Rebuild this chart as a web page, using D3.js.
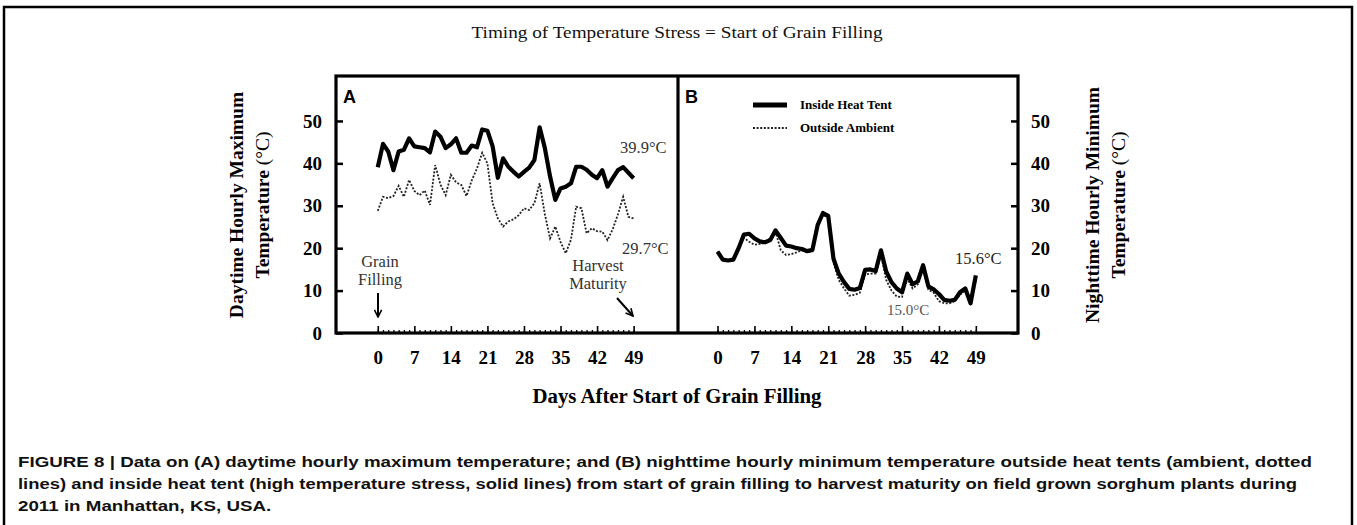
<!DOCTYPE html>
<html>
<head>
<meta charset="utf-8">
<script src="https://cdn.jsdelivr.net/npm/d3@7"></script>
<style>
  body { margin: 0; background: #fff; }
  text { font-family: "Liberation Serif", "Times New Roman", serif; }
</style>
</head>
<body>
<div id="chart"></div>
<script>
// days after start of grain filling
var days = [0,1,2,3,4,5,6,7,8,9,10,11,12,13,14,15,16,17,18,19,20,21,22,23,24,
            25,26,27,28,29,30,31,32,33,34,35,36,37,38,39,40,41,42,43,44,45,46,47,48,49];
var dayTicks = [0,7,14,21,28,35,42,49];
var tempTicks = [0,10,20,30,40,50];

// panel A: daytime hourly maximum (C)
var dayInside = [39.1,44.6,42.8,38.4,42.8,43.2,45.9,44.0,43.8,43.6,42.6,47.5,46.3,43.6,44.5,45.9,42.5,42.5,44.2,43.8,
                 48.0,47.7,44.0,36.6,41.2,39.2,38.0,36.9,38.0,39.0,40.8,48.5,43.6,36.9,31.4,34.1,34.5,35.3,39.2,39.2,
                 38.5,37.3,36.5,38.4,34.5,36.5,38.4,39.1,37.8,36.5];
var dayOutside = [28.8,32.1,31.8,32.3,34.7,32.1,36.1,33.5,32.5,33.6,30.2,39.6,35.0,32.5,37.3,35.5,34.9,32.3,36.0,38.8,
                  42.5,40.0,30.6,27.0,25.1,26.3,26.8,27.8,29.4,29.0,30.6,35.3,28.0,22.3,25.1,21.5,18.8,22.0,29.8,29.4,
                  23.5,24.7,24.0,23.9,21.9,24.5,28.0,32.1,27.4,27.0];

// panel B: nighttime hourly minimum (C)
var nightInside = [19.2,17.3,17.1,17.3,20.0,23.2,23.4,22.3,21.6,21.4,21.9,24.2,22.4,20.6,20.4,20.0,19.8,19.3,19.6,25.5,
                   28.3,27.6,17.5,14.0,12.0,10.4,10.2,10.6,14.9,15.0,14.6,19.5,14.5,12.0,10.5,9.6,14.0,11.5,12.2,16.0,
                   11.0,10.3,9.2,7.8,7.6,7.8,9.6,10.5,7.0,13.6];
var nightOutside = [19.2,17.3,17.1,17.5,20.2,22.5,21.5,20.8,21.0,21.2,22.5,23.9,19.5,18.4,18.6,19.0,19.5,19.0,19.3,25.0,
                    27.8,27.2,16.5,12.5,10.5,8.8,9.0,9.5,13.8,14.0,14.0,18.5,12.5,10.0,8.6,8.5,12.8,10.5,11.5,15.0,
                    10.2,9.5,7.5,7.0,7.0,7.5,9.0,10.0,6.8,12.5];

var W = 1357, H = 525;
var plotTop = 76, plotBottom = 333;
var aLeft = 336, mid = 678, bRight = 1018;

var svg = d3.select("#chart").append("svg")
    .attr("width", W)
    .attr("height", H);

// outer frame (open at the bottom)
svg.append("path")
    .attr("d", "M4,525V7H1352V525")
    .attr("fill", "none")
    .attr("stroke", "#000")
    .attr("stroke-width", 2.5);

svg.append("text")
    .attr("x", 677).attr("y", 38)
    .attr("text-anchor", "middle")
    .attr("textLength", 411)
    .attr("lengthAdjust", "spacingAndGlyphs")
    .style("font-size", "16.5px")
    .style("fill", "#111")
    .text("Timing of Temperature Stress = Start of Grain Filling");

var y = d3.scaleLinear().domain([0, 60.6]).range([plotBottom, plotTop]);
var xA = d3.scaleLinear().domain([-8, 57.5]).range([aLeft, mid]);
var xB = d3.scaleLinear().domain([-7.5, 57]).range([mid, bRight]);

function drawPanel(x, inside, outside) {
    var g = svg.append("g");
    // minor day ticks
    g.append("g")
        .attr("transform", "translate(0," + plotBottom + ")")
        .call(d3.axisBottom(x).tickValues(days).tickSize(-3).tickFormat(""))
        .call(function(s) { s.select(".domain").remove(); s.selectAll("line").attr("stroke-width", 1.3); });
    // major ticks + labels
    g.append("g")
        .attr("transform", "translate(0," + plotBottom + ")")
        .call(d3.axisBottom(x).tickValues(dayTicks).tickSize(-7).tickPadding(18))
        .call(function(s) {
            s.select(".domain").remove();
            s.selectAll("line").attr("stroke-width", 1.6);
            s.selectAll("text")
                .style("font-family", "'Liberation Serif', serif")
                .style("font-size", "19px")
                .style("font-weight", "bold")
                .attr("fill", "#000");
        });

    g.append("path")
        .datum(days)
        .attr("fill", "none")
        .attr("stroke", "#222")
        .attr("stroke-width", 1.8)
        .attr("stroke-dasharray", "2,1.6")
        .attr("d", d3.line()
            .x(function(d) { return x(d); })
            .y(function(d, i) { return y(outside[i]); }));

    g.append("path")
        .datum(days)
        .attr("fill", "none")
        .attr("stroke", "#000")
        .attr("stroke-width", 4.2)
        .attr("stroke-linejoin", "round")
        .attr("d", d3.line()
            .x(function(d) { return x(d); })
            .y(function(d, i) { return y(inside[i]); }));
}

drawPanel(xA, dayInside, dayOutside);
drawPanel(xB, nightInside, nightOutside);

// y axes
function styleY(s) {
    s.select(".domain").remove();
    s.selectAll("line").attr("stroke-width", 2.5);
    s.selectAll("text")
        .style("font-family", "'Liberation Serif', serif")
        .style("font-size", "19px")
        .style("font-weight", "bold")
        .attr("fill", "#000");
}
svg.append("g")
    .attr("transform", "translate(" + aLeft + ",0)")
    .call(d3.axisLeft(y).tickValues(tempTicks).tickSize(-7).tickPadding(14))
    .call(styleY);
svg.append("g")
    .attr("transform", "translate(" + bRight + ",0)")
    .call(d3.axisRight(y).tickValues(tempTicks).tickSize(-7).tickPadding(13))
    .call(styleY);

// panel frames
svg.append("rect")
    .attr("x", aLeft).attr("y", plotTop)
    .attr("width", bRight - aLeft).attr("height", plotBottom - plotTop)
    .attr("fill", "none").attr("stroke", "#000").attr("stroke-width", 3.2);
svg.append("line")
    .attr("x1", mid).attr("x2", mid).attr("y1", plotTop).attr("y2", plotBottom)
    .attr("stroke", "#000").attr("stroke-width", 3.2);

// panel letters
svg.append("text").attr("x", 343).attr("y", 103)
    .style("font-family", "'Liberation Sans', Arial, sans-serif")
    .style("font-size", "18px").style("font-weight", "bold").text("A");
svg.append("text").attr("x", 685).attr("y", 103)
    .style("font-family", "'Liberation Sans', Arial, sans-serif")
    .style("font-size", "18px").style("font-weight", "bold").text("B");

// legend
svg.append("line").attr("x1", 753).attr("x2", 787).attr("y1", 105).attr("y2", 105)
    .attr("stroke", "#000").attr("stroke-width", 5);
svg.append("line").attr("x1", 753).attr("x2", 787).attr("y1", 128).attr("y2", 128)
    .attr("stroke", "#222").attr("stroke-width", 1.8).attr("stroke-dasharray", "2,1.6");
svg.append("text").attr("x", 800).attr("y", 109)
    .style("font-size", "13px").style("font-weight", "bold").text("Inside Heat Tent");
svg.append("text").attr("x", 800).attr("y", 132)
    .style("font-size", "13px").style("font-weight", "bold").text("Outside Ambient");

// annotations
function note(xp, yp, t, size, anchor, col) {
    svg.append("text").attr("x", xp).attr("y", yp)
        .attr("text-anchor", anchor || "start")
        .style("font-size", (size || 14) + "px")
        .style("fill", col || "#333")
        .text(t);
}
note(620, 153, "39.9°C", 16.5);
note(622, 254, "29.7°C", 16.5);
note(955, 264, "15.6°C", 16.5, "start", "#222");
note(887, 315, "15.0°C", 15, "start", "#555");
note(380, 267, "Grain", 16.5, "middle");
note(380, 285, "Filling", 16.5, "middle");
note(598, 271, "Harvest", 16.5, "middle");
note(598, 289, "Maturity", 16.5, "middle");

var defs = svg.append("defs");
defs.append("marker")
    .attr("id", "arr").attr("viewBox", "0 0 10 10")
    .attr("refX", 9).attr("refY", 5)
    .attr("markerWidth", 4.5).attr("markerHeight", 4.5)
    .attr("orient", "auto")
    .append("path").attr("d", "M1,1L9,5L1,9")
    .attr("fill", "none").attr("stroke", "#000").attr("stroke-width", 1.8);
svg.append("line").attr("x1", 378).attr("x2", 378).attr("y1", 293).attr("y2", 317)
    .attr("stroke", "#000").attr("stroke-width", 2).attr("marker-end", "url(#arr)");
svg.append("line").attr("x1", 617).attr("x2", 633).attr("y1", 298).attr("y2", 316)
    .attr("stroke", "#000").attr("stroke-width", 2).attr("marker-end", "url(#arr)");

// axis titles
svg.append("text")
    .attr("x", 677).attr("y", 403)
    .attr("text-anchor", "middle")
    .attr("textLength", 289)
    .attr("lengthAdjust", "spacingAndGlyphs")
    .style("font-size", "20px").style("font-weight", "bold")
    .text("Days After Start of Grain Filling");

function yTitle(xp, l1) {
    var g = svg.append("g").attr("transform", "translate(" + xp + ",205) rotate(-90)");
    g.append("text").attr("text-anchor", "middle").attr("y", 0)
        .style("font-size", "19.5px").style("font-weight", "bold").text(l1);
    var t = g.append("text").attr("text-anchor", "middle").attr("y", 26)
        .style("font-size", "19.5px");
    t.append("tspan").style("font-weight", "bold").text("Temperature ");
    t.append("tspan").text("(°C)");
}
yTitle(243, "Daytime Hourly Maximum");
yTitle(1099, "Nighttime Hourly Minimum");

// caption
var capLines = [
    "FIGURE 8 | Data on (A) daytime hourly maximum temperature; and (B) nighttime hourly minimum temperature outside heat tents (ambient, dotted",
    "lines) and inside heat tent (high temperature stress, solid lines) from start of grain filling to harvest maturity on field grown sorghum plants during",
    "2011 in Manhattan, KS, USA."
];
var capWidths = [1294, 1279];
var cap = svg.append("g").selectAll("text").data(capLines).enter().append("text")
    .attr("x", 18)
    .attr("y", function(d, i) { return 467 + i * 22; })
    .style("font-family", "'Liberation Sans', Arial, sans-serif")
    .style("font-size", "14.5px")
    .style("font-weight", "bold")
    .style("fill", "#111")
    .text(function(d) { return d; });
var ratio = capWidths[0] / cap.nodes()[0].getComputedTextLength();
cap.each(function(d, i) {
    var w = capWidths[i] || this.getComputedTextLength() * ratio;
    d3.select(this).attr("textLength", w).attr("lengthAdjust", "spacingAndGlyphs");
});
</script>
</body>
</html>
